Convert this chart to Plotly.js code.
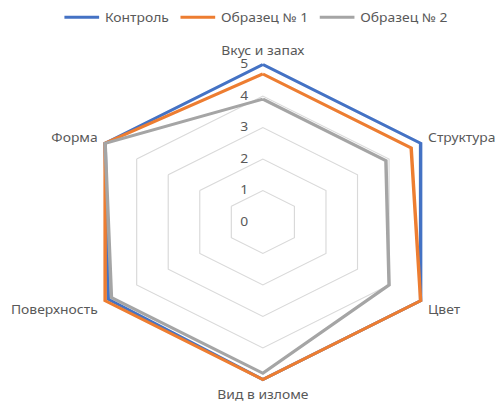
<!DOCTYPE html>
<html>
<head>
<meta charset="utf-8">
<script src="https://cdn.plot.ly/plotly-3.0.1.min.js"></script>
<style>
html,body{margin:0;padding:0;background:#fff;overflow:hidden;width:495px;height:403px;}
#chart{width:428px;height:403px;transform:scaleX(1.1565);transform-origin:0 0;}
</style>
</head>
<body>
<div id="chart"></div>
<script>
const categories = ["Вкус и запах", "Структура", "Цвет", "Вид в изломе", "Поверхность", "Форма"];
const seriesNames = ["Контроль", "Образец № 1", "Образец № 2"];
const control = [5, 5, 5, 5, 4.9, 5];
const sample1 = [4.7, 4.7, 5, 5, 5, 5];
const sample2 = [3.9, 3.9, 4.0, 4.8, 4.8, 5];
const radialTicks = [0, 1, 2, 3, 4, 5];

const colors = ["#4472C4", "#ED7D31", "#A5A5A5"];
const allSeries = [control, sample1, sample2];

const traces = allSeries.map((vals, i) => ({
  type: "scatterpolar",
  mode: "lines",
  name: seriesNames[i],
  r: vals.concat([vals[0]]),
  theta: categories.concat([categories[0]]),
  line: {color: colors[i], width: 3},
  cliponaxis: false,
  hoverinfo: "skip"
}));

const W = 428, H = 403;
const rMax = 5.08;
const cx = 227.3, cy = 222, R = 157.5 * rMax / 5;

const layout = {
  width: W, height: H,
  margin: {l: 0, r: 0, t: 0, b: 0},
  paper_bgcolor: "#ffffff",
  font: {family: "Noto Sans, sans-serif", size: 12, color: "#595959"},
  showlegend: true,
  legend: {
    orientation: "h", x: 0.518, xanchor: "center", y: 0.993, yanchor: "top",
    font: {size: 12, color: "#595959"}, itemwidth: 30, tracegroupgap: 0
  },
  polar: {
    domain: {x: [(cx - R) / W, (cx + R) / W], y: [(H - cy - R) / H, (H - cy + R) / H]},
    bgcolor: "#ffffff",
    gridshape: "linear",
    radialaxis: {
      range: [0, rMax], tickvals: radialTicks, ticktext: radialTicks.map(String),
      angle: 90, tickangle: 90, side: "counterclockwise", showline: false,
      ticks: "outside", ticklen: 8, tickcolor: "rgba(0,0,0,0)",
      gridcolor: "#d9d9d9", gridwidth: 1, layer: "below traces",
      tickfont: {size: 12, color: "#595959"}
    },
    angularaxis: {
      rotation: 90, direction: "clockwise", showgrid: false,
      showline: false, ticks: "outside", ticklen: 2, tickcolor: "rgba(0,0,0,0)",
      layer: "below traces",
      tickfont: {size: 12, color: "#595959"}
    }
  }
};

Plotly.newPlot("chart", traces, layout, {displayModeBar: false, staticPlot: true});
</script>
</body>
</html>
